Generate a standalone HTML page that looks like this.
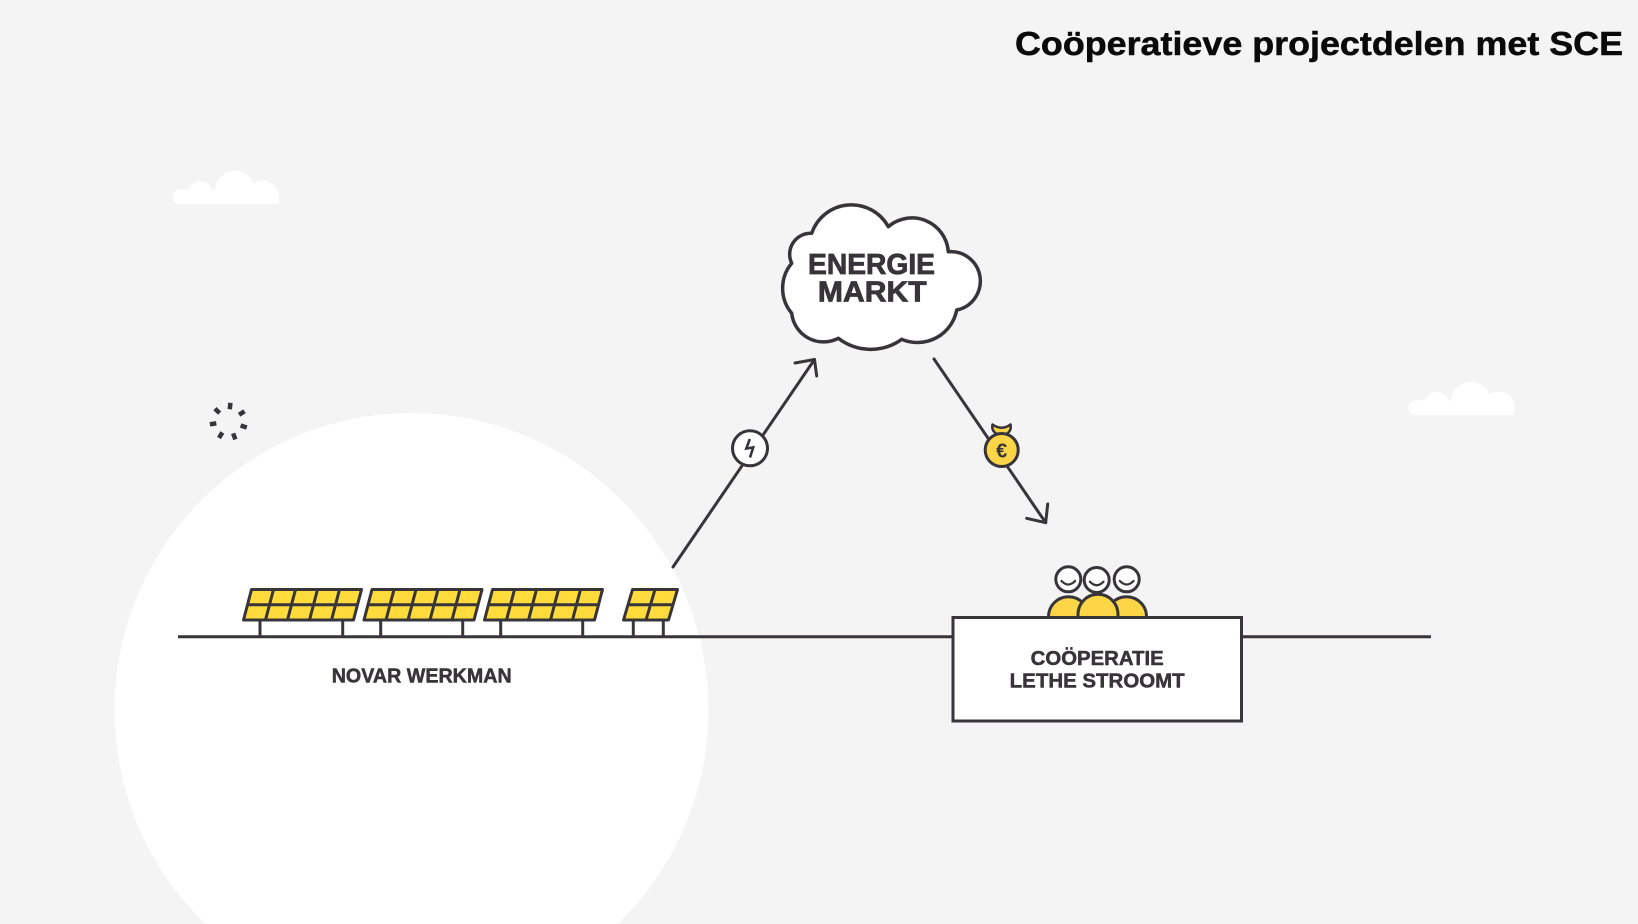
<!DOCTYPE html>
<html>
<head>
<meta charset="utf-8">
<style>
  html,body{margin:0;padding:0;background:#f4f4f4;width:1638px;height:924px;overflow:hidden;}
  svg{display:block;}
  .lbl{font-family:"Liberation Sans",Arial,sans-serif;font-weight:bold;fill:#373539;stroke:#373539;}
</style>
</head>
<body>
<svg width="1638" height="924" viewBox="0 0 1638 924" xmlns="http://www.w3.org/2000/svg">
  <defs>
    <clipPath id="cclip"><rect x="0" y="0" width="420" height="162"/></clipPath>
    <g id="smallcloud" clip-path="url(#cclip)" fill="#ffffff">
      <rect x="37" y="118" width="320" height="44" rx="22"/>
      <circle cx="60" cy="140" r="22"/>
      <circle cx="122" cy="130" r="37"/>
      <circle cx="225" cy="122" r="60"/>
      <circle cx="309" cy="140" r="48"/>
    </g>
  </defs>

  <!-- background -->
  <rect x="0" y="0" width="1638" height="924" fill="#f4f4f4"/>

  <!-- big white circle (cut at bottom edge) -->
  <path d="M205.5 924 A297 297 0 1 1 617.5 924 Z" fill="#ffffff"/>

  <!-- small clouds -->
  <use href="#smallcloud" transform="translate(160,150) scale(0.33333)"/>
  <use href="#smallcloud" transform="translate(1396,361) scale(0.33333)"/>

  <!-- sun dashes -->
  <g stroke="#373539" stroke-width="4.5" stroke-linecap="butt">
    <line x1="229.79" y1="409.25" x2="230.36" y2="402.77"/>
    <line x1="239.11" y1="414.79" x2="244.53" y2="411.19"/>
    <line x1="240.60" y1="425.53" x2="246.78" y2="427.53"/>
    <line x1="233.12" y1="433.39" x2="235.42" y2="439.47"/>
    <line x1="222.32" y1="432.45" x2="218.99" y2="438.03"/>
    <line x1="216.32" y1="423.41" x2="209.88" y2="424.30"/>
    <line x1="219.64" y1="413.09" x2="214.93" y2="408.61"/>
  </g>

  <!-- title -->
  <text x="1015" y="55" font-family="'Liberation Sans', Arial, sans-serif" font-weight="bold" font-size="33" fill="#0a0a0a" stroke="#0a0a0a" stroke-width="0.5" textLength="608" lengthAdjust="spacingAndGlyphs">Coöperatieve projectdelen met SCE</text>

  <!-- ground lines -->
  <g stroke="#373539" stroke-width="3" stroke-linecap="butt">
    <line x1="178" y1="636.7" x2="952" y2="636.7"/>
    <line x1="1242" y1="636.7" x2="1431" y2="636.7"/>
  </g>

  <!-- solar panels -->
  <g stroke="#373539" stroke-width="3" stroke-linejoin="round" stroke-linecap="butt">
    <line x1="260" y1="620" x2="260" y2="636"/>
    <line x1="342.7" y1="620" x2="342.7" y2="636"/>
    <line x1="380.7" y1="620" x2="380.7" y2="636"/>
    <line x1="462.7" y1="620" x2="462.7" y2="636"/>
    <line x1="500.7" y1="620" x2="500.7" y2="636"/>
    <line x1="582.7" y1="620" x2="582.7" y2="636"/>
    <line x1="633.3" y1="620" x2="633.3" y2="636"/>
    <line x1="663.3" y1="620" x2="663.3" y2="636"/>

    <polygon points="251.5,589.5 361.5,589.5 353.5,620 243.5,620" fill="#ffdc3c"/>
    <line x1="247.5" y1="604.75" x2="357.5" y2="604.75"/>
    <line x1="273.5" y1="589.5" x2="265.5" y2="620"/>
    <line x1="295.5" y1="589.5" x2="287.5" y2="620"/>
    <line x1="317.5" y1="589.5" x2="309.5" y2="620"/>
    <line x1="339.5" y1="589.5" x2="331.5" y2="620"/>

    <polygon points="372,589.5 482,589.5 474,620 364,620" fill="#ffdc3c"/>
    <line x1="368" y1="604.75" x2="478" y2="604.75"/>
    <line x1="394" y1="589.5" x2="386" y2="620"/>
    <line x1="416" y1="589.5" x2="408" y2="620"/>
    <line x1="438" y1="589.5" x2="430" y2="620"/>
    <line x1="460" y1="589.5" x2="452" y2="620"/>

    <polygon points="492.5,589.5 602.5,589.5 594.5,620 484.5,620" fill="#ffdc3c"/>
    <line x1="488.5" y1="604.75" x2="598.5" y2="604.75"/>
    <line x1="514.5" y1="589.5" x2="506.5" y2="620"/>
    <line x1="536.5" y1="589.5" x2="528.5" y2="620"/>
    <line x1="558.5" y1="589.5" x2="550.5" y2="620"/>
    <line x1="580.5" y1="589.5" x2="572.5" y2="620"/>

    <polygon points="632.5,589.5 677.5,589.5 668.5,620 623.5,620" fill="#ffdc3c"/>
    <line x1="628" y1="604.75" x2="673" y2="604.75"/>
    <line x1="655" y1="589.5" x2="646" y2="620"/>
  </g>

  <text class="lbl" x="421.7" y="682.7" font-size="20" stroke-width="0.5" text-anchor="middle" textLength="180" lengthAdjust="spacingAndGlyphs">NOVAR WERKMAN</text>

  <!-- arrows -->
  <g stroke="#373539" stroke-width="3" fill="none" stroke-linecap="round" stroke-linejoin="round">
    <line x1="673" y1="567" x2="814.5" y2="359.5"/>
    <polyline points="795,363 814.5,359.5 816.7,376"/>
    <line x1="934" y1="359" x2="1045.7" y2="522.7"/>
    <polyline points="1026.7,518.3 1045.7,522.7 1047.7,504"/>
  </g>

  <!-- lightning icon -->
  <circle cx="750" cy="448.3" r="17.5" fill="#ffffff" stroke="#373539" stroke-width="3"/>
  <path d="M749.8 439 L746.3 448.6 L753.2 447.4 L750 457.5" fill="none" stroke="#373539" stroke-width="2.6" stroke-linejoin="miter"/>

  <!-- money bag -->
  <path d="M992.5 424.5 Q1001.7 431 1010.5 424.5 Q1012 431.5 1005 435 L998.5 435 Q991 431.5 992.5 424.5 Z" fill="#f9d547" stroke="#373539" stroke-width="2.5" stroke-linejoin="round"/>
  <circle cx="1001.7" cy="450" r="16.5" fill="#f9d547" stroke="#373539" stroke-width="3"/>
  <text x="1001.7" y="457.5" font-family="'Liberation Sans', Arial, sans-serif" font-weight="bold" font-size="20" fill="#373539" text-anchor="middle">€</text>

  <!-- energie markt cloud -->
  <path d="M811.7 233.3 A42 42 0 0 1 888.3 226.7 A36.4 36.4 0 0 1 948.3 251.7 A29.5 29.5 0 0 1 956.7 310 A40 40 0 0 1 901.7 339.3 A53 53 0 0 1 838.3 338.3 A32 32 0 0 1 791.7 313.3 A39 39 0 0 1 791.7 263.3 A21 21 0 0 1 811.7 233.3 Z" fill="#ffffff" stroke="#373539" stroke-width="3.5" stroke-linejoin="round"/>
  <text class="lbl" x="871.5" y="274" font-size="29" stroke-width="0.8" text-anchor="middle" textLength="127" lengthAdjust="spacingAndGlyphs">ENERGIE</text>
  <text class="lbl" x="872.3" y="301.7" font-size="29" stroke-width="0.8" text-anchor="middle" textLength="108.7" lengthAdjust="spacingAndGlyphs">MARKT</text>

  <!-- people -->
  <g stroke="#373539" stroke-width="3" stroke-linejoin="round">
    <path d="M1048.5 625 L1048.5 616.7 A20 20 0 0 1 1088.5 616.7 L1088.5 625 Z" fill="#fdd648"/>
    <path d="M1106.5 625 L1106.5 616.7 A20 20 0 0 1 1146.5 616.7 L1146.5 625 Z" fill="#fdd648"/>
    <path d="M1078 625 L1078 614.3 A20 20 0 0 1 1118 614.3 L1118 625 Z" fill="#fdd648"/>
    <circle cx="1068.3" cy="579.3" r="12.5" fill="#ffffff"/>
    <circle cx="1126.7" cy="579.3" r="12.5" fill="#ffffff"/>
    <circle cx="1096.7" cy="580" r="12.5" fill="#ffffff"/>
  </g>
  <g stroke="#373539" stroke-width="2.3" fill="none" stroke-linecap="round">
    <path d="M1061.5 581 Q1068.3 588 1075.1 581"/>
    <path d="M1089.9 581.7 Q1096.7 588.7 1103.5 581.7"/>
    <path d="M1119.9 581 Q1126.7 588 1133.5 581"/>
  </g>

  <!-- cooperative box -->
  <rect x="953" y="617.5" width="288.5" height="103.5" fill="#ffffff" stroke="#373539" stroke-width="3"/>
  <text class="lbl" x="1097.2" y="665" font-size="20" stroke-width="0.5" text-anchor="middle" textLength="133" lengthAdjust="spacingAndGlyphs">COÖPERATIE</text>
  <text class="lbl" x="1097.2" y="687.5" font-size="20" stroke-width="0.5" text-anchor="middle" textLength="175" lengthAdjust="spacingAndGlyphs">LETHE STROOMT</text>
</svg>
</body>
</html>
